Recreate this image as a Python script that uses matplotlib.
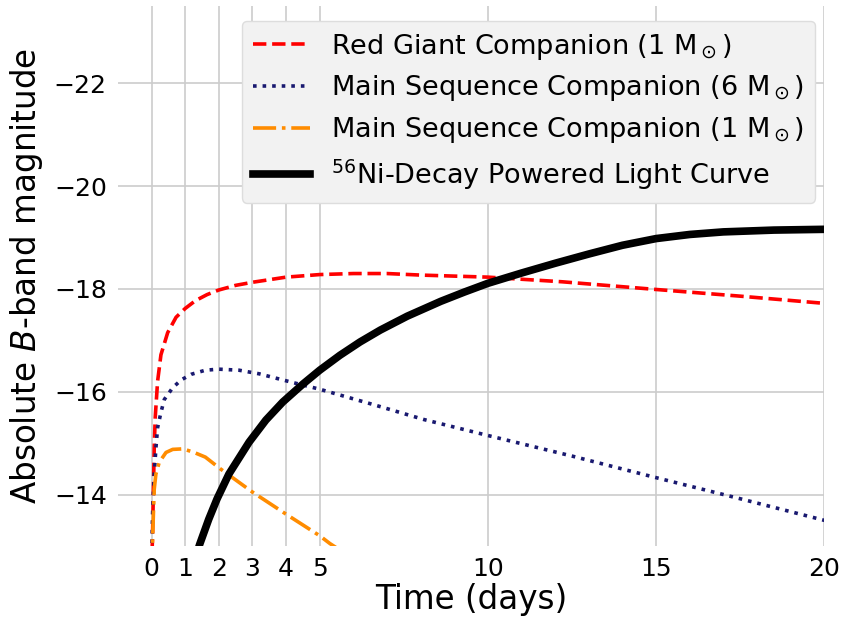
import numpy as np
import matplotlib
matplotlib.use('Agg')
import matplotlib.pyplot as plt

# red giant companion (1 Msun)
t_rg = [0.0, 0.03, 0.08, 0.11, 0.18, 0.28, 0.48, 0.73, 1.0, 1.3, 1.65, 2.0, 2.5, 3.0, 4.0, 5.0, 6.0, 7.0, 8.0,
        10.0, 12.2, 15.0, 17.5, 20.0]
m_rg = [-12.5, -13.2, -14.9, -15.5, -16.2, -16.72, -17.15, -17.45, -17.62, -17.77, -17.89, -17.98, -18.07, -18.13,
        -18.23, -18.28, -18.3, -18.3, -18.27, -18.23, -18.14, -17.99, -17.86, -17.72]

# main sequence companion (6 Msun)
t_ms6 = [0.0, 0.03, 0.08, 0.13, 0.18, 0.28, 0.38, 0.63, 0.88, 1.18, 1.6, 2.0, 2.6, 3.2, 4.2, 5.0, 6.6, 8.1,
         10.0, 12.5, 15.0, 17.5, 20.0]
m_ms6 = [-12.5, -13.6, -14.4, -14.9, -15.3, -15.6, -15.85, -16.08, -16.23, -16.34, -16.42, -16.44, -16.42, -16.35,
         -16.18, -16.05, -15.75, -15.46, -15.15, -14.75, -14.33, -13.92, -13.5]

# main sequence companion (1 Msun)
t_ms1 = [0.0, 0.05, 0.08, 0.13, 0.23, 0.43, 0.63, 0.93, 1.23, 1.6, 2.05, 3.0, 4.0, 5.0, 5.3, 6.0]
m_ms1 = [-12.5, -13.5, -14.1, -14.4, -14.63, -14.82, -14.88, -14.89, -14.83, -14.73, -14.5, -14.05, -13.62, -13.2,
         -13.05, -12.75]

# Ni56 decay light curve
t_ni = [1.2, 1.43, 1.7, 1.95, 2.3, 2.9, 3.4, 3.9, 4.5, 5.0, 5.6, 6.2, 6.8, 7.6, 8.6, 9.3, 10.0, 11.0, 12.0,
        13.0, 14.0, 15.0, 16.0, 17.0, 18.5, 20.0]
m_ni = [-12.55, -13.03, -13.52, -13.92, -14.4, -15.02, -15.45, -15.8, -16.15, -16.42, -16.71, -16.97, -17.2, -17.47,
        -17.76, -17.94, -18.11, -18.31, -18.5, -18.68, -18.85, -18.98, -19.06, -19.11, -19.145, -19.16]

xticks = [0, 1, 2, 3, 4, 5, 10, 15, 20]
yticks = [-14, -16, -18, -20, -22]

fig = plt.figure(figsize=(8.42, 6.17), dpi=100)
ax = fig.add_axes([0.140, 0.115, 0.839, 0.875])

ax.plot(t_rg, m_rg, color='red', ls='--', lw=2.6, label=r'Red Giant Companion (1 M$_\odot$)')
ax.plot(t_ms6, m_ms6, color='midnightblue', ls=':', lw=2.6, label=r'Main Sequence Companion (6 M$_\odot$)')
ax.plot(t_ms1, m_ms1, color='darkorange', ls='-.', lw=2.6, label=r'Main Sequence Companion (1 M$_\odot$)')
ax.plot(t_ni, m_ni, color='black', ls='-', lw=5.5, label=r'$^{56}$Ni-Decay Powered Light Curve')

ax.set_xlim(-1, 20)
ax.set_ylim(-13, -23.5)
ax.set_xticks(xticks)
ax.set_yticks(yticks)
ax.grid(True, color='#cccccc', lw=1.2)
ax.set_axisbelow(True)
for s in ax.spines.values():
    s.set_visible(False)
ax.tick_params(length=0, labelsize=18, pad=8)

ax.set_xlabel('Time (days)', fontsize=23.5, labelpad=1)
ax.set_ylabel(r'Absolute $B$-band magnitude', fontsize=23.5, labelpad=6)

leg = ax.legend(loc='upper right', bbox_to_anchor=(0.987, 0.973), borderaxespad=0,
                fontsize=19.5, handlelength=2.1, labelspacing=0.44,
                facecolor='#f2f2f2', edgecolor='#dddddd', framealpha=1.0)

fig.savefig('out.png', dpi=100)
